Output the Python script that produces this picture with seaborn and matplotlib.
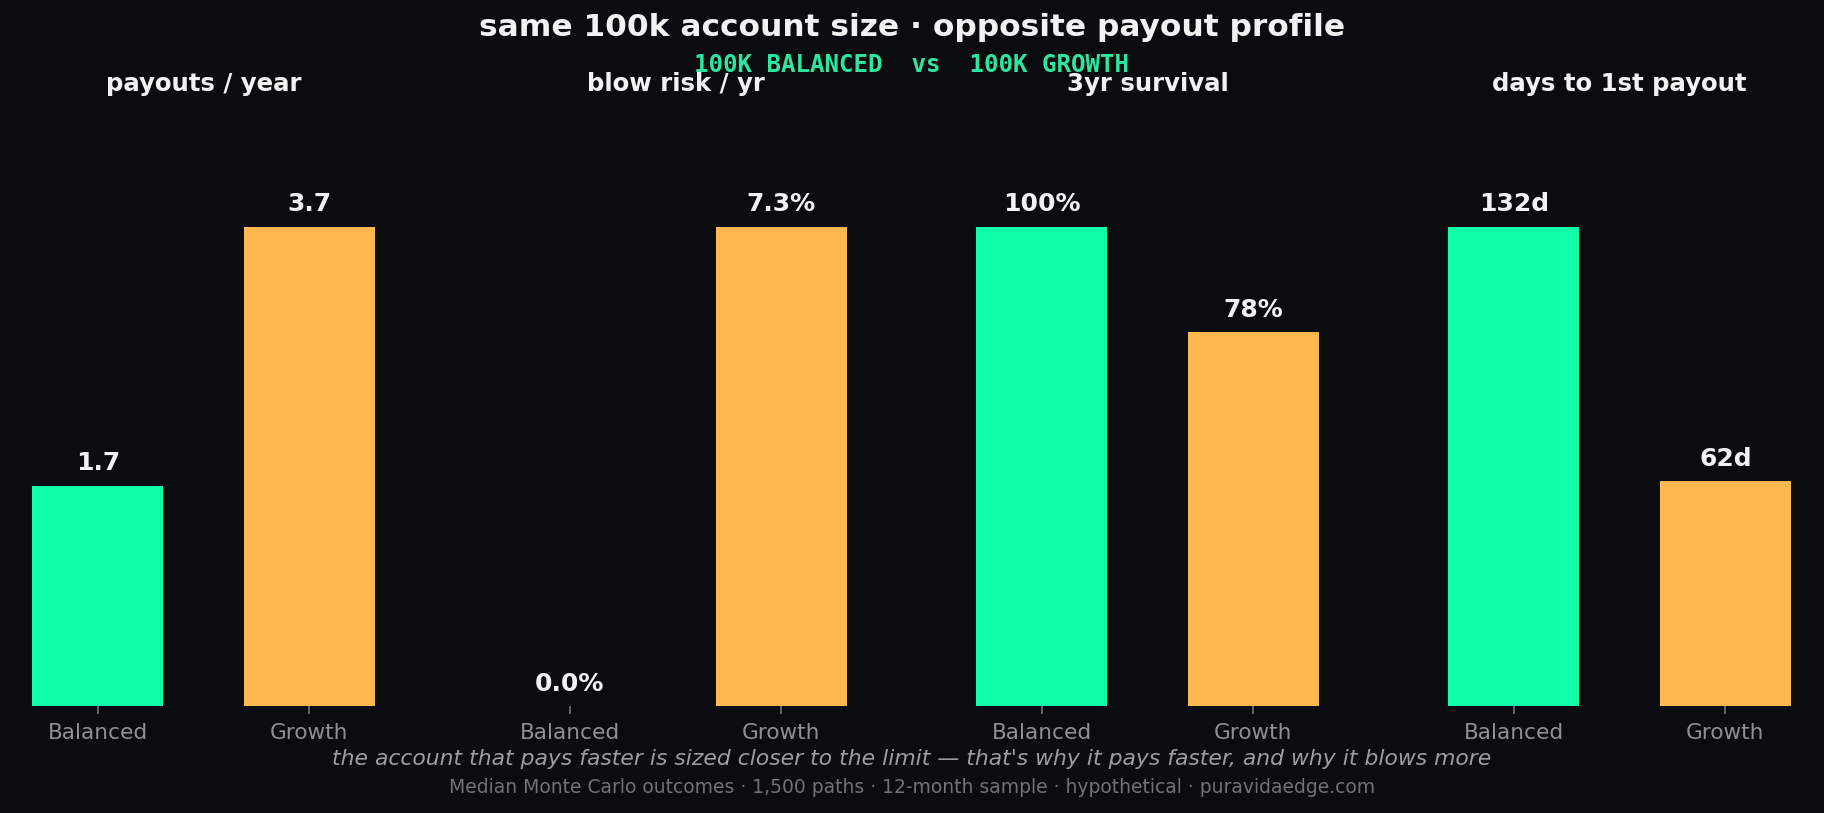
import matplotlib
matplotlib.use("Agg")
import matplotlib.pyplot as plt
import pandas as pd
import seaborn as sns

#%% Data
metrics = ['payouts / year', 'blow risk / yr', '3yr survival', 'days to 1st payout']
plans = ['Balanced', 'Growth']
balanced_vals = [1.7, 0.0, 100, 132]
growth_vals = [3.7, 7.3, 78, 62]
value_formats = ['{:.1f}', '{:.1f}%', '{:.0f}%', '{:.0f}d']

#%% Style
BG = '#0b0c0f'
GREEN = '#12ffaa'
ORANGE = '#ffb750'
palette = {'Balanced': GREEN, 'Growth': ORANGE}

sns.set_style("dark")
plt.rcParams['font.family'] = ['DejaVu Sans']
plt.rcParams['figure.facecolor'] = BG
plt.rcParams['axes.facecolor'] = BG

fig, axes = plt.subplots(1, 4, figsize=(12.16, 5.42), dpi=150)
fig.subplots_adjust(left=0.0096, right=0.99, bottom=0.1316, top=0.827, wspace=0.268)

for i, ax in enumerate(axes):
    df = pd.DataFrame({'plan': plans, 'value': [balanced_vals[i], growth_vals[i]]})
    sns.barplot(data=df, x='plan', y='value', hue='plan', palette=palette,
                width=0.62, legend=False, ax=ax, saturation=1, linewidth=0)
    top = max(df['value'])
    ax.set_ylim(0, top * 1.18)
    ax.set_xlim(-0.38, 1.38)
    for j, v in enumerate(df['value']):
        ax.annotate(value_formats[i].format(v), (j, v), xytext=(0, 5),
                    textcoords='offset points', ha='center', va='bottom',
                    color='#f2f2f2', fontsize=12, fontweight='bold')
    ax.set_title(metrics[i], color='#f2f2f2', fontsize=11.7, fontweight='bold', pad=24)
    ax.set_xlabel('')
    ax.set_ylabel('')
    ax.set_yticks([])
    ax.grid(False)
    for s in ax.spines.values():
        s.set_visible(False)
    ax.tick_params(axis='x', colors='#6f737a', labelcolor='#8c9097',
                   labelsize=10.4, length=4, width=0.8, pad=4, bottom=True)

fig.text(0.5, 0.966, 'same 100k account size · opposite payout profile',
         ha='center', va='center', color='#f2f2f2', fontsize=15.0, fontweight='bold')
fig.text(0.5, 0.92, '100K BALANCED  vs  100K GROWTH', ha='center', va='center',
         color='#2ee6a0', fontsize=11.6, fontweight='bold', family='DejaVu Sans Mono')
fig.text(0.5, 0.067, "the account that pays faster is sized closer to the limit — that's why it pays faster, and why it blows more",
         ha='center', va='center', color='#9a9ea5', fontsize=10.5, style='italic')
fig.text(0.5, 0.031, 'Median Monte Carlo outcomes · 1,500 paths · 12-month sample · hypothetical · puravidaedge.com',
         ha='center', va='center', color='#6e7279', fontsize=9)

fig.savefig('out.png', dpi=150, facecolor=BG)
